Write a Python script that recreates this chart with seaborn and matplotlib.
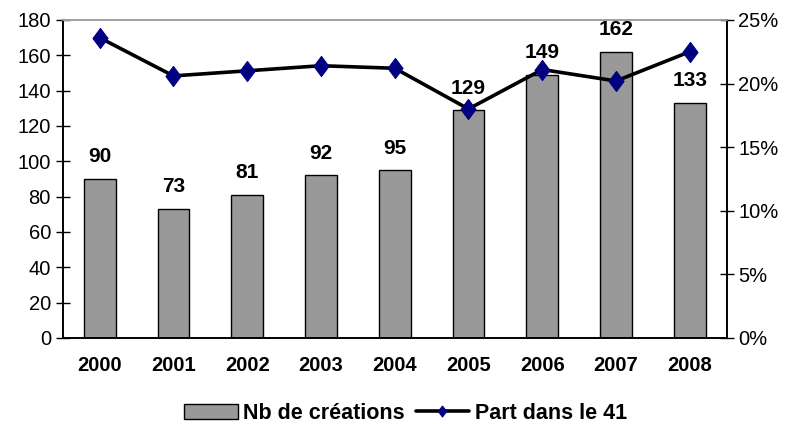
import numpy as np
import pandas as pd
import seaborn as sns
import matplotlib.pyplot as plt
from matplotlib.ticker import PercentFormatter, FixedLocator

years = ["2000", "2001", "2002", "2003", "2004", "2005", "2006", "2007", "2008"]
creations = [90, 73, 81, 92, 95, 129, 149, 162, 133]
part_41 = [23.6, 20.6, 21.0, 21.4, 21.2, 18.0, 21.1, 20.2, 22.5]

df = pd.DataFrame({"annee": years, "nb": creations, "part": part_41})

sns.set_theme(style="white", rc={"text.color": "black", "xtick.color": "black",
                                 "ytick.color": "black", "axes.labelcolor": "black"})
plt.rcParams["font.family"] = ["Liberation Sans", "DejaVu Sans"]

# tall diamond like the Excel marker
diamond = [(0, 1), (0.75, 0), (0, -1), (-0.75, 0), (0, 1)]

fig = plt.figure(figsize=(7.95, 4.24), dpi=100)
ax = fig.add_axes([0.079, 0.203, 0.835, 0.750])

sns.barplot(data=df, x="annee", y="nb", color="#999999", edgecolor="black",
            linewidth=1.0, width=0.43, saturation=1, ax=ax, label="Nb de créations")
if ax.get_legend() is not None:
    ax.get_legend().remove()
ax.bar_label(ax.containers[0], padding=9, fontsize=15, fontweight="bold", color="black")
ax.set_ylim(0, 180)
ax.set_yticks(range(0, 181, 20))
ax.set_xlim(-0.5, len(years) - 0.5)
ax.set_xlabel("")
ax.set_ylabel("")
ax.tick_params(axis="y", direction="inout", length=10, width=1, labelsize=14.5, colors="black")
ax.tick_params(axis="x", which="major", length=0, labelsize=14.5, pad=13, colors="black")
ax.xaxis.set_minor_locator(FixedLocator(np.arange(0.5, len(years) - 1, 1)))
ax.tick_params(axis="x", which="minor", direction="out", length=4, width=1, colors="black")
for lab in ax.get_xticklabels():
    lab.set_fontweight("bold")

ax2 = ax.twinx()
sns.lineplot(x=np.arange(len(years)), y=df["part"], ax=ax2, color="black",
             linewidth=2.6, marker=diamond, markersize=14.5, markerfacecolor="#000080",
             markeredgecolor="#000080", label="Part dans le 41", legend=False)
ax2.set_ylim(0, 25)
ax2.set_yticks(range(0, 26, 5))
ax2.yaxis.set_major_formatter(PercentFormatter(decimals=0))
ax2.set_ylabel("")
ax2.tick_params(axis="y", direction="inout", length=10, width=1, labelsize=14.5, colors="black")

for a in (ax, ax2):
    for side in ["left", "right", "bottom"]:
        a.spines[side].set_color("black")
        a.spines[side].set_linewidth(1.2)
    a.spines["top"].set_color("#a0a0a0")

h1, l1 = ax.get_legend_handles_labels()
h2, l2 = ax2.get_legend_handles_labels()
fig.legend(h1 + h2, l1 + l2, loc="lower center", bbox_to_anchor=(0.51, -0.045), ncol=2,
           frameon=False, prop={"weight": "bold", "size": 15.5}, handlelength=2.5,
           columnspacing=0.5, handletextpad=0.25, markerscale=0.55)

plt.savefig("out.png", dpi=100)
plt.close("all")
